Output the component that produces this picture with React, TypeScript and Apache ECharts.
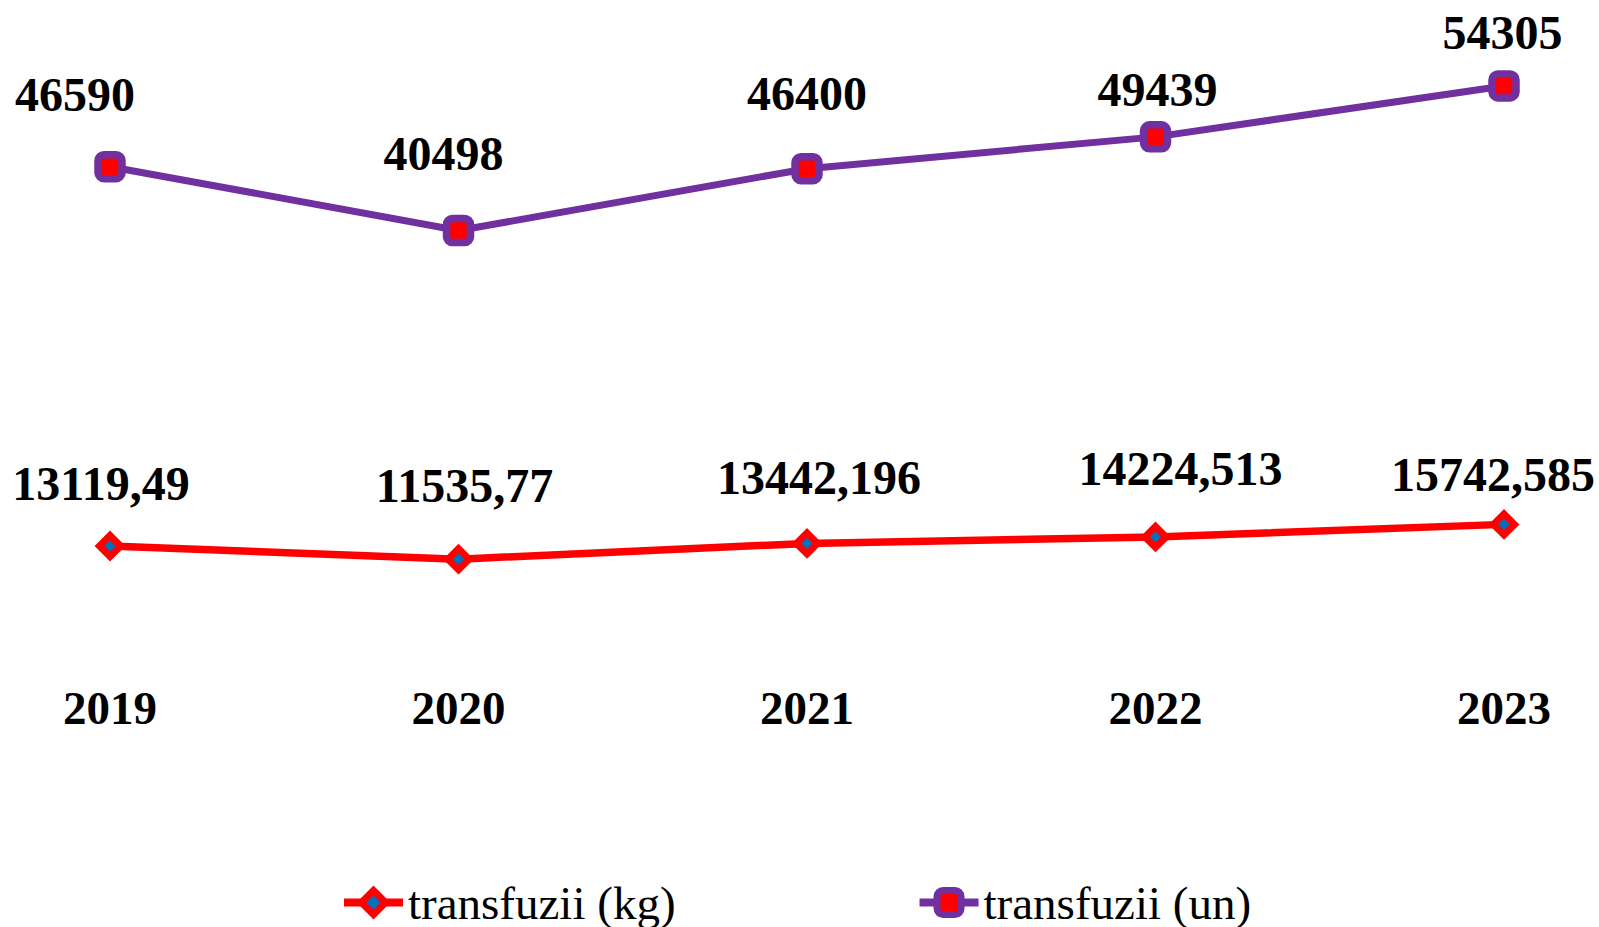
import React, { useEffect, useRef } from "react";
import * as echarts from "echarts";

const years = ["2019", "2020", "2021", "2022", "2023"];
const kgValues = [13119.49, 11535.77, 13442.196, 14224.513, 15742.585];
const unValues = [46590, 40498, 46400, 49439, 54305];

// label placement tweaks (style, not data)
const kgLabelOffsets = [[-9, -63], [6, -74], [12, -66], [25, -68], [-11, -50]];
const unLabelOffsets = [[-35, -72], [-15, -77], [0, -75], [2, -47], [-1.5, -53]];

const FONT = "'Liberation Serif', 'Times New Roman', serif";

export default function App() {
  const ref = useRef<HTMLDivElement>(null);
  useEffect(() => {
    if (!ref.current) return;
    const chart = echarts.init(ref.current, undefined, { renderer: "svg" });
    const labelBase = {
      show: true,
      position: "inside",
      color: "#000",
      fontFamily: FONT,
      fontWeight: "bold",
      fontSize: 48,
      textBorderWidth: 0,
      formatter: (p: any) => String(p.value).replace(".", ","),
    };
    chart.setOption({
      animation: false,
      backgroundColor: "#fff",
      textStyle: { fontFamily: FONT },
      grid: { left: 110, right: 95, top: 26.3, bottom: 272.5, containLabel: false },
      xAxis: {
        type: "category",
        data: years,
        boundaryGap: false,
        axisLine: { show: false },
        axisTick: { show: false },
        splitLine: { show: false },
        axisLabel: {
          color: "#000",
          fontFamily: FONT,
          fontWeight: "bold",
          fontSize: 47,
          margin: 30,
        },
      },
      yAxis: [
        { type: "value", min: 0, max: 76000, show: false, splitLine: { show: false } },
        { type: "value", min: 0, max: 60000, show: false, splitLine: { show: false } },
      ],
      legend: {
        left: 340,
        top: 879,
        padding: 0,
        itemWidth: 59,
        itemHeight: 30,
        itemGap: 240,
        textStyle: { color: "#000", fontFamily: FONT, fontSize: 47 },
        data: [
          {
            name: "transfuzii (kg)",
            itemStyle: { borderWidth: 7 },
            lineStyle: { width: 8 },
          },
          {
            name: "transfuzii (un)",
            itemStyle: { borderWidth: 7 },
            lineStyle: { width: 8 },
          },
        ],
      },
      series: [
        {
          name: "transfuzii (kg)",
          type: "line",
          yAxisIndex: 0,
          symbol: "diamond",
          symbolSize: 21,
          lineStyle: { color: "#FF0000", width: 7.5 },
          itemStyle: { color: "#0070C0", borderColor: "#FF0000", borderWidth: 7 },
          label: labelBase,
          data: kgValues.map((v, i) => ({ value: v, label: { offset: kgLabelOffsets[i] } })),
        },
        {
          name: "transfuzii (un)",
          type: "line",
          yAxisIndex: 1,
          symbol: "roundRect",
          symbolSize: 24,
          lineStyle: { color: "#7030A0", width: 7 },
          itemStyle: { color: "#FF0000", borderColor: "#7030A0", borderWidth: 7.5 },
          label: labelBase,
          data: unValues.map((v, i) => ({ value: v, label: { offset: unLabelOffsets[i] } })),
        },
      ],
    });
    return () => chart.dispose();
  }, []);
  return (
    <div
      ref={ref}
      style={{ position: "absolute", left: 0, top: 0, width: 1599, height: 927 }}
    />
  );
}
